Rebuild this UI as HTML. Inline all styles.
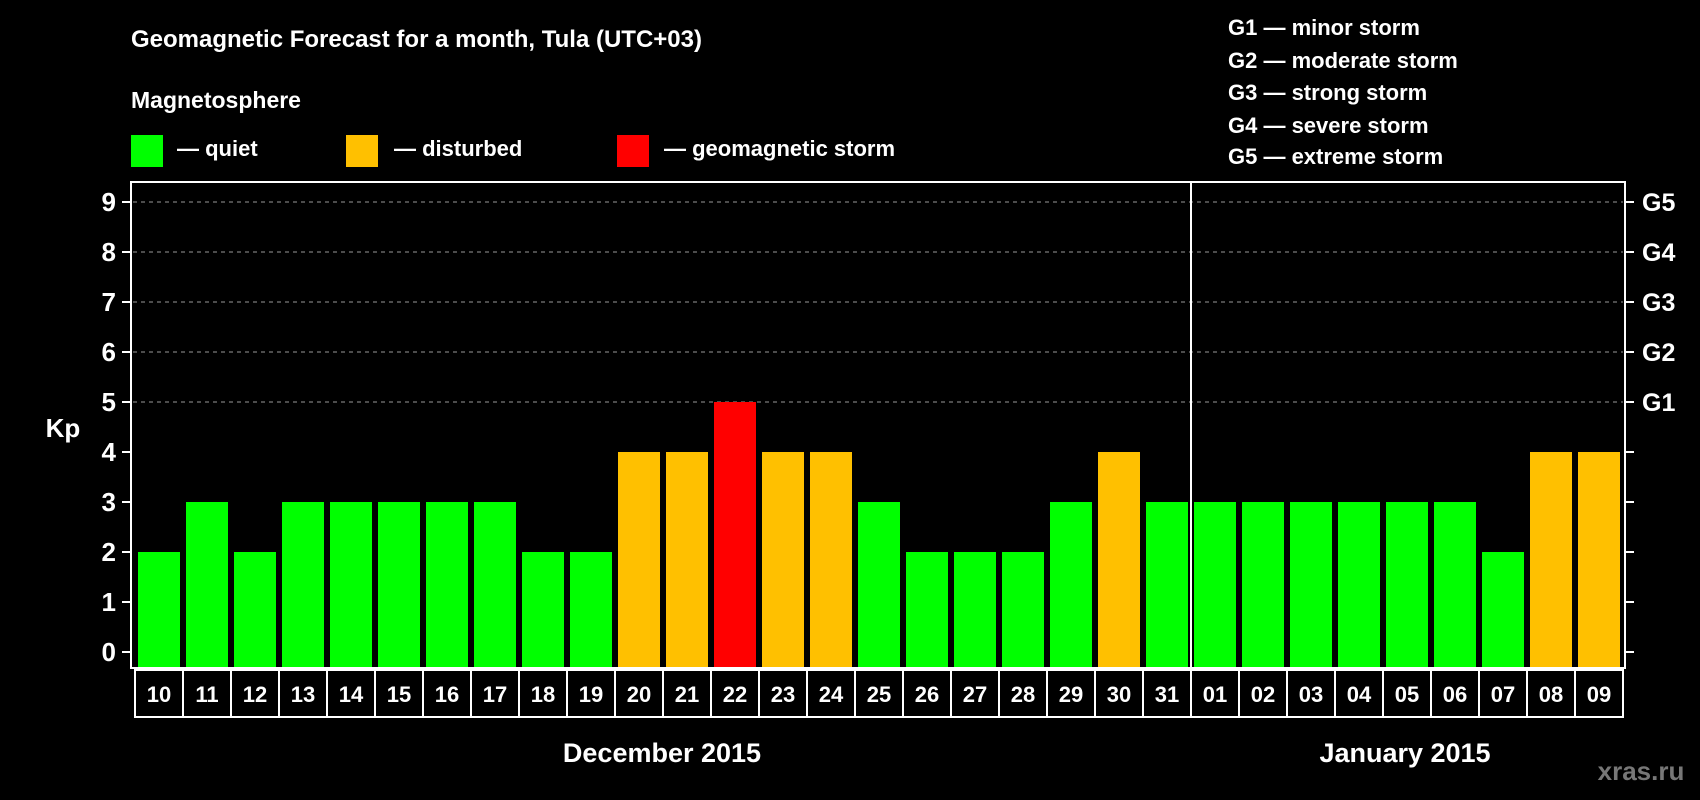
<!DOCTYPE html>
<html><head><meta charset="utf-8"><style>
html,body{margin:0;padding:0;background:#000;}
svg{display:block;font-family:"Liberation Sans",Arial,sans-serif;font-weight:bold;}
</style></head><body>
<svg id="chart" width="1700" height="800" viewBox="0 0 1700 800" xmlns="http://www.w3.org/2000/svg">
<rect width="1700" height="800" fill="#000"/>
<text x="131" y="47" fill="#fff" font-size="24">Geomagnetic Forecast for a month, Tula (UTC+03)</text>
<text x="131" y="108" fill="#fff" font-size="23">Magnetosphere</text>
<g><rect x="131" y="135" width="32" height="32" fill="#00ff00"/><text x="177" y="156" fill="#fff" font-size="22">— quiet</text></g>
<g><rect x="346" y="135" width="32" height="32" fill="#ffc000"/><text x="394" y="156" fill="#fff" font-size="22">— disturbed</text></g>
<g><rect x="617" y="135" width="32" height="32" fill="#ff0000"/><text x="664" y="156" fill="#fff" font-size="22">— geomagnetic storm</text></g>
<g fill="#fff" font-size="22">
<text x="1228" y="35">G1 — minor storm</text>
<text x="1228" y="68">G2 — moderate storm</text>
<text x="1228" y="100">G3 — strong storm</text>
<text x="1228" y="133">G4 — severe storm</text>
<text x="1228" y="164">G5 — extreme storm</text>
</g>
<text x="63" y="437" fill="#fff" font-size="26" text-anchor="middle">Kp</text>
<g id="grid"></g><g id="bars"></g><g id="axes"></g>
<text x="662" y="762" fill="#fff" font-size="27" text-anchor="middle">December 2015</text>
<text x="1405" y="762" fill="#fff" font-size="27" text-anchor="middle">January 2015</text>
<text x="1641" y="780" fill="#777" font-size="26" text-anchor="middle">xras.ru</text>
</svg>
<script>
const days=["10","11","12","13","14","15","16","17","18","19","20","21","22","23","24","25","26","27","28","29","30","31","01","02","03","04","05","06","07","08","09"];
const kpValues=[2,3,2,3,3,3,3,3,2,2,4,4,5,4,4,3,2,2,2,3,4,3,3,3,3,3,3,3,2,4,4];
const yTicks=[0,1,2,3,4,5,6,7,8,9];
const gLabels=["G1","G2","G3","G4","G5"];
const gLevels=[5,6,7,8,9];
const monthBreakIndex=22;
const NS="http://www.w3.org/2000/svg";
const y=v=>652-50*v;
const x=i=>138+48*i;
function mk(t,a,p){const e=document.createElementNS(NS,t);for(const k in a)e.setAttribute(k,a[k]);p.appendChild(e);return e;}
const grid=document.getElementById('grid'),bars=document.getElementById('bars'),axes=document.getElementById('axes');
gLevels.forEach((v,i)=>{
 const l=mk('line',{x1:133,x2:1623,y1:y(v),y2:y(v),stroke:'#999','stroke-width':1,'stroke-dasharray':'4,4'},grid);
 
 
 const t=mk('text',{x:1642,y:y(v)+9,fill:'#fff','font-size':25},axes);t.textContent=gLabels[i];
 
 
});
kpValues.forEach((v,i)=>{
 const c=v>=5?'#ff0000':(v>=4?'#ffc000':'#00ff00');
 const r=mk('rect',{x:x(i),y:y(v),width:42,height:668-y(v),fill:c},bars);
 
 
 const b=mk('rect',{x:135+48*i,y:670,width:48,height:47,fill:'none',stroke:'#fff','stroke-width':2},axes);
 
 
 const t=mk('text',{x:159+48*i,y:702,fill:'#fff','font-size':22,'text-anchor':'middle'},axes);t.textContent=days[i];
 
 
});
yTicks.forEach(v=>{
 const t=mk('text',{x:116,y:y(v)+9,fill:'#fff','font-size':26,'text-anchor':'end'},axes);t.textContent=v;
 
 
 const a=mk('line',{x1:122,x2:131,y1:y(v),y2:y(v),stroke:'#fff','stroke-width':2},axes);
 
 
 const b=mk('line',{x1:1625,x2:1634,y1:y(v),y2:y(v),stroke:'#fff','stroke-width':2},axes);
 
 
});
const f=mk('rect',{x:131,y:182,width:1494,height:486,fill:'none',stroke:'#fff','stroke-width':2},axes);


const dx=x(monthBreakIndex)-3;
const d=mk('line',{x1:dx,x2:dx,y1:182,y2:717,stroke:'#fff','stroke-width':2},axes);


</script>
</body></html>
